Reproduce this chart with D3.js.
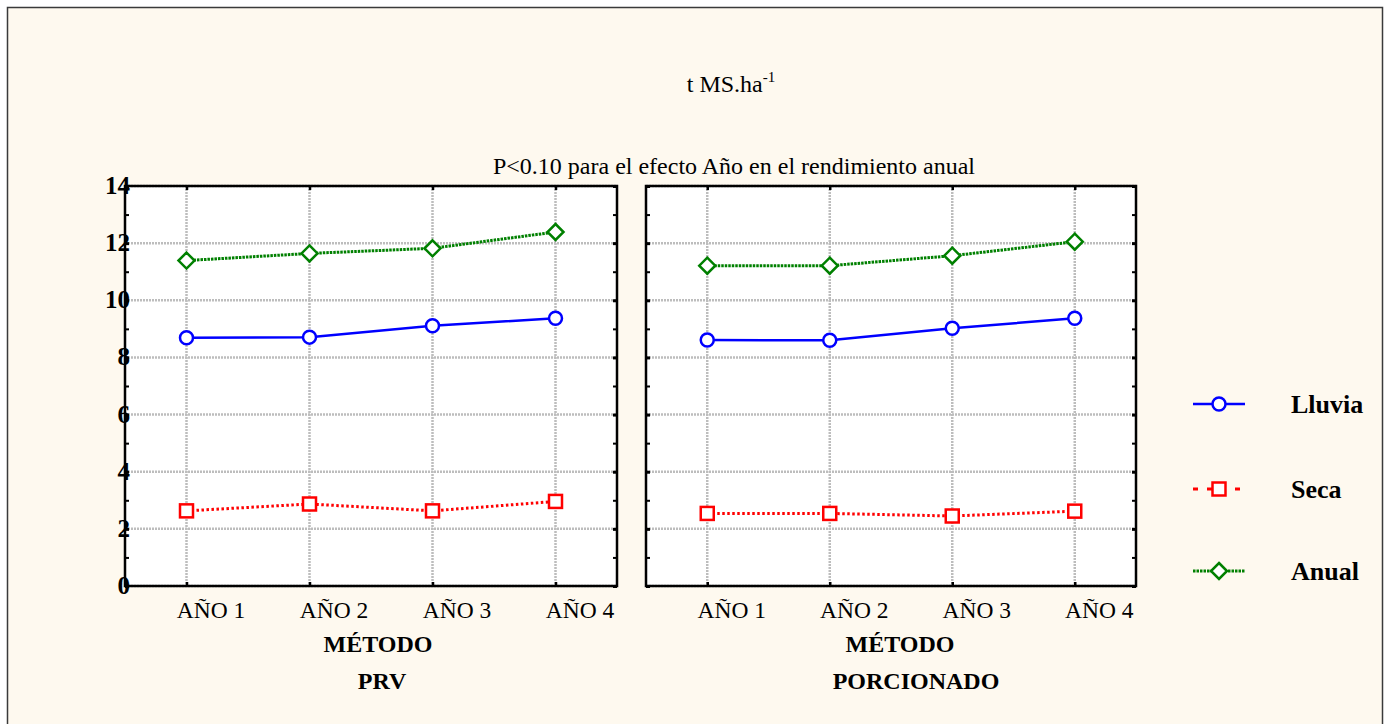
<!DOCTYPE html>
<html><head><meta charset="utf-8">
<script src="https://cdn.jsdelivr.net/npm/d3@7/dist/d3.min.js"></script>
<style>
html,body{margin:0;padding:0;background:#fff;}
svg{display:block;}
</style></head>
<body>
<svg id="chart" width="1390" height="724"></svg>
<script>
// ---- data ----
const categories = ["AÑO 1", "AÑO 2", "AÑO 3", "AÑO 4"];
const yTickValues = [0, 2, 4, 6, 8, 10, 12, 14];
const seriesNames = ["Lluvia", "Seca", "Anual"];
const prvLluvia = [8.69, 8.71, 9.11, 9.37];
const prvSeca = [2.63, 2.87, 2.63, 2.96];
const prvAnual = [11.39, 11.64, 11.82, 12.39];
const porLluvia = [8.61, 8.60, 9.02, 9.37];
const porSeca = [2.54, 2.54, 2.45, 2.62];
const porAnual = [11.21, 11.21, 11.56, 12.05];
const panelNames = ["PRV", "PORCIONADO"];
const titleMain = "t MS.ha";
const titleSup = "-1";
const subtitle = "P<0.10 para el efecto Año en el rendimiento anual";

const panels = [
  {name: panelNames[0], x0: 125, x1: 617, data: [prvLluvia, prvSeca, prvAnual], labelDx: [7, 11]},
  {name: panelNames[1], x0: 646, x1: 1136, data: [porLluvia, porSeca, porAnual], labelDx: [9, 25]}
];
const styles = {
  Lluvia: {color: "#0000ff", dash: null, width: 2.5, marker: "circle"},
  Seca: {color: "#ff0000", dash: "2.5,2.5", width: 3, marker: "square"},
  Anual: {color: "#008000", dash: "2.5,1", width: 3, marker: "diamond"}
};

const svg = d3.select("#chart");
const serif = "'Liberation Serif','Times New Roman',serif";

svg.append("rect").attr("x", 0).attr("y", 0).attr("width", 1390).attr("height", 724).attr("fill", "#ffffff");
svg.append("rect").attr("x", 7.5).attr("y", 7.5).attr("width", 1375).attr("height", 730)
  .attr("fill", "#fef9ef").attr("stroke", "#3a3a3a").attr("stroke-width", 1.5);

// titles
const t1 = svg.append("text").attr("x", 731).attr("y", 92).attr("text-anchor", "middle")
  .attr("font-family", serif).attr("font-size", 24).attr("fill", "#000");
t1.append("tspan").text(titleMain);
t1.append("tspan").attr("font-size", 15).attr("dy", -10).text(titleSup);
svg.append("text").attr("x", 734).attr("y", 174).attr("text-anchor", "middle")
  .attr("font-family", serif).attr("font-size", 24).attr("fill", "#000").text(subtitle);

const yTop = 186, yBot = 586;
const y = d3.scaleLinear().domain([0, 14]).range([yBot, yTop]);
const minorTicks = d3.range(0, 15, 1);

function marker(g, type, cx, cy, color) {
  if (type === "circle") {
    g.append("circle").attr("cx", cx).attr("cy", cy).attr("r", 6.5)
      .attr("fill", "#fff").attr("stroke", color).attr("stroke-width", 2.5);
  } else if (type === "square") {
    g.append("rect").attr("x", cx - 6.5).attr("y", cy - 6.5).attr("width", 13).attr("height", 13)
      .attr("fill", "#fff").attr("stroke", color).attr("stroke-width", 2.5);
  } else {
    const s = 8;
    g.append("path").attr("d", `M${cx},${cy - s}L${cx + s},${cy}L${cx},${cy + s}L${cx - s},${cy}Z`)
      .attr("fill", "#fff").attr("stroke", color).attr("stroke-width", 2.5);
  }
}

panels.forEach((p, pi) => {
  const x = d3.scalePoint().domain(categories).range([p.x0, p.x1]).padding(0.5);
  const g = svg.append("g");
  g.append("rect").attr("x", p.x0).attr("y", yTop).attr("width", p.x1 - p.x0).attr("height", yBot - yTop)
    .attr("fill", "#ffffff");
  // grid
  g.append("g").selectAll("line").data(yTickValues).join("line")
    .attr("x1", p.x0).attr("x2", p.x1).attr("y1", d => y(d)).attr("y2", d => y(d))
    .attr("stroke", "#bdbdbd").attr("stroke-width", 2.5).attr("stroke-dasharray", "2,1");
  g.append("g").selectAll("line").data(categories).join("line")
    .attr("x1", d => x(d)).attr("x2", d => x(d)).attr("y1", yTop).attr("y2", yBot)
    .attr("stroke", "#bdbdbd").attr("stroke-width", 2.5).attr("stroke-dasharray", "2,1");

  // series
  seriesNames.forEach((s, si) => {
    const st = styles[s];
    const vals = p.data[si];
    const line = d3.line().x((d, i) => x(categories[i])).y(d => y(d));
    g.append("path").datum(vals).attr("d", line).attr("fill", "none")
      .attr("stroke", st.color).attr("stroke-width", st.width)
      .attr("stroke-dasharray", st.dash);
    vals.forEach((v, i) => marker(g, st.marker, x(categories[i]), y(v), st.color));
  });

  // axes (ticks pointing inward)
  const axL = g.append("g").attr("transform", `translate(${p.x0},0)`)
    .call(d3.axisRight(y).tickValues(minorTicks).tickSize(4).tickFormat(""));
  axL.selectAll(".tick line").attr("stroke", "#000").attr("stroke-width", d => d % 2 === 0 ? 3 : 2);
  axL.select(".domain").remove();
  const axR = g.append("g").attr("transform", `translate(${p.x1},0)`)
    .call(d3.axisLeft(y).tickValues(minorTicks).tickSize(4).tickFormat(""));
  axR.selectAll(".tick line").attr("stroke", "#000").attr("stroke-width", d => d % 2 === 0 ? 3 : 2);
  axR.select(".domain").remove();
  const axT = g.append("g").attr("transform", `translate(0,${yTop})`)
    .call(d3.axisBottom(x).tickSize(4).tickFormat(""));
  axT.selectAll(".tick line").attr("stroke", "#000").attr("stroke-width", 2.5);
  axT.select(".domain").remove();
  const axB = g.append("g").attr("transform", `translate(0,${yBot})`)
    .call(d3.axisTop(x).tickSize(4).tickFormat(""));
  axB.selectAll(".tick line").attr("stroke", "#000").attr("stroke-width", 2.5);
  axB.select(".domain").remove();

  // frame
  g.append("rect").attr("x", p.x0).attr("y", yTop).attr("width", p.x1 - p.x0).attr("height", yBot - yTop)
    .attr("fill", "none").attr("stroke", "#000").attr("stroke-width", 2.5);

  // x labels (offset right of ticks, as in the original)
  const axLab = g.append("g").attr("transform", `translate(24,${yBot})`)
    .call(d3.axisBottom(x).tickSize(0).tickPadding(15));
  axLab.select(".domain").remove();
  axLab.selectAll("text").attr("font-family", serif).attr("font-size", 23.5).attr("fill", "#000");

  if (pi === 0) {
    const ayLab = g.append("g").attr("transform", `translate(${p.x0 + 5},0)`)
      .call(d3.axisLeft(y).tickValues(yTickValues).tickSize(0).tickPadding(0).tickFormat(d3.format("d")));
    ayLab.select(".domain").remove();
    ayLab.selectAll("text").attr("font-family", serif).attr("font-size", 25).attr("font-weight", "bold")
      .attr("fill", "#000").attr("dy", "0.3em");
  }

  const cx = (p.x0 + p.x1) / 2;
  g.append("text").attr("x", cx + p.labelDx[0]).attr("y", 652).attr("text-anchor", "middle")
    .attr("font-family", serif).attr("font-size", 24).attr("font-weight", "bold").text("MÉTODO");
  g.append("text").attr("x", cx + p.labelDx[1]).attr("y", 689).attr("text-anchor", "middle")
    .attr("font-family", serif).attr("font-size", 24).attr("font-weight", "bold").text(p.name);
});

// legend
const legY = [404, 489, 571];
seriesNames.forEach((s, i) => {
  const st = styles[s];
  const lg = svg.append("g");
  lg.append("line").attr("x1", 1193).attr("x2", 1245).attr("y1", legY[i]).attr("y2", legY[i])
    .attr("stroke", st.color).attr("stroke-width", st.width)
    .attr("stroke-dasharray", s === "Seca" ? "5,9" : st.dash);
  marker(lg, st.marker, 1219, legY[i], st.color);
  lg.append("text").attr("x", 1291).attr("y", legY[i] + 9).attr("font-family", serif)
    .attr("font-size", 26).attr("font-weight", "bold").attr("fill", "#000").text(s);
});
</script>
</body></html>
